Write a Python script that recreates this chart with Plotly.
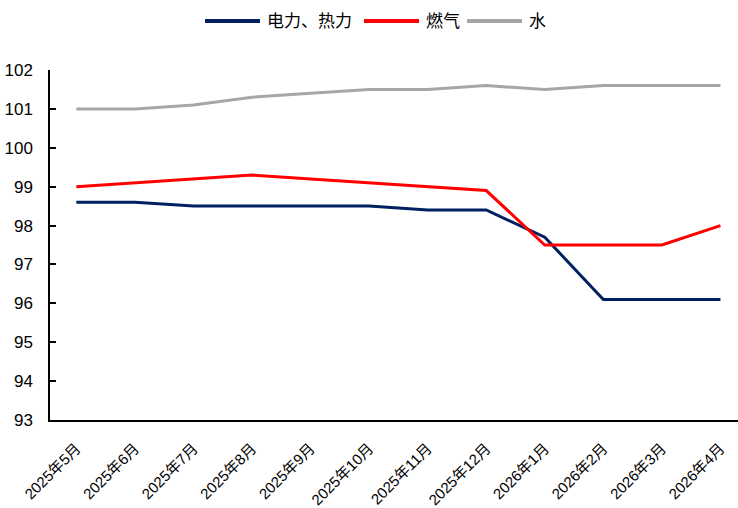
import plotly.graph_objects as go

months = ["2025年5月", "2025年6月", "2025年7月", "2025年8月", "2025年9月", "2025年10月",
          "2025年11月", "2025年12月", "2026年1月", "2026年2月", "2026年3月", "2026年4月"]
power_heat = [98.6, 98.6, 98.5, 98.5, 98.5, 98.5, 98.4, 98.4, 97.7, 96.1, 96.1, 96.1]
gas = [99.0, 99.1, 99.2, 99.3, 99.2, 99.1, 99.0, 98.9, 97.5, 97.5, 97.5, 98.0]
water = [101.0, 101.0, 101.1, 101.3, 101.4, 101.5, 101.5, 101.6, 101.5, 101.6, 101.6, 101.6]
y_ticks = [93, 94, 95, 96, 97, 98, 99, 100, 101, 102]

series = [("电力、热力", power_heat, "#002060"),
          ("燃气", gas, "#FF0000"),
          ("水", water, "#A6A6A6")]

W, H = 738, 508
ML, MR, MT, MB = 50, 0, 70, 88
font = "Liberation Sans, Noto Sans CJK SC"

fig = go.Figure()
for name, vals, color in series:
    fig.add_trace(go.Scatter(x=months, y=vals, name=name, mode="lines",
                             line=dict(color=color, width=3), showlegend=False))

# Legend row above the plot: long line sample followed by the label
def px_x(p):
    return (p - ML) / (W - ML - MR)

def px_y(p):
    return (H - MB - p) / (H - MT - MB)

legend_y = 21
starts = [205, 364, 467]
sample_len = 55
for (name, _, color), x0 in zip(series, starts):
    fig.add_shape(type="line", xref="paper", yref="paper",
                  x0=px_x(x0), x1=px_x(x0 + sample_len),
                  y0=px_y(legend_y), y1=px_y(legend_y),
                  line=dict(color=color, width=4))
    fig.add_annotation(xref="paper", yref="paper", x=px_x(x0 + sample_len + 5),
                       y=px_y(legend_y), text=name, showarrow=False,
                       xanchor="left", yanchor="middle",
                       font=dict(size=17, family=font, color="#000000"))

fig.update_layout(
    width=W, height=H,
    margin=dict(l=ML, r=MR, t=MT, b=MB),
    paper_bgcolor="white", plot_bgcolor="white",
    font=dict(family=font, color="#000000", size=16),
    showlegend=False,
)
fig.update_xaxes(type="category", range=[-0.45, 11.3], showline=True,
                 linecolor="#000000", linewidth=1.5, showgrid=False,
                 ticks="", tickangle=-45, tickfont=dict(size=15),
                 ticklabelstandoff=12)
fig.update_yaxes(range=[93, 102], tickvals=y_ticks, showline=True,
                 linecolor="#000000", linewidth=1.5, showgrid=False,
                 ticks="inside", ticklen=6, tickwidth=1.5, tickcolor="#000000",
                 zeroline=False, tickfont=dict(size=17), ticklabelstandoff=12)

fig.write_html("out.html")
